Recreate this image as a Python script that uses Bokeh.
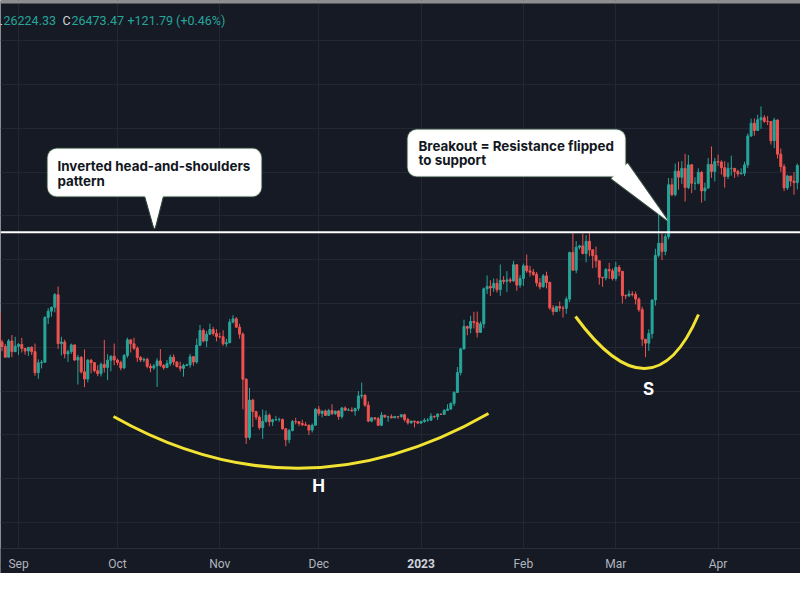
import numpy as np
import pandas as pd
from bokeh.plotting import figure
from bokeh.models import (Range1d, FixedTicker, Span, BoxAnnotation, PolyAnnotation,
                          Label, ColumnDataSource, Grid)
from bokeh.core.properties import value
from bokeh.embed import file_html
from bokeh.resources import INLINE

# ---------------- data (BTC/USD daily) ----------------
start_date = "2022-08-26"
first_open = 21560

closes = [
    20240, 20040, 19550, 20290, 19800, 20050,
    20130, 19950, 19830, 20000, 19800, 18840, 19290, 19320, 21360, 21650,
    21830, 22400, 20170, 20240, 19700, 19800, 20110, 19420, 19540, 18880,
    18550, 19410, 19300, 18930, 18800, 19220, 19080, 19410, 19590, 19420,
    19310, 19060, 19620, 20340, 20160, 19960, 19530, 19420, 19450, 19130,
    19060, 19150, 19380, 19180, 19070, 19260, 19550, 19330, 19120, 19040,
    19170, 19200, 19570, 19330, 20090, 20770, 20290, 20600, 20810, 20630, 20490,
    20480, 20160, 20210, 21150, 21300, 20920, 20600, 18540, 15880, 17590,
    17070, 16810, 16330, 16620, 16900, 16600, 16690, 16700, 16700, 16280,
    15780, 16190, 16610, 16600, 16520, 16460, 16440, 16220, 16440, 17170,
    16980, 17090, 16890, 17110, 16970, 17090, 16840, 17230, 17130, 17130,
    17090, 17210, 17780, 17810, 17360, 16630, 16780, 16740, 16440, 16900,
    16820, 16830, 16780, 16840, 16830, 16920, 16700, 16550, 16630, 16600, 16540,
    16620, 16670, 16670, 16850, 16830, 16950, 16940, 17120, 17180, 17440,
    17940, 18850, 19930, 20950, 20870, 21180, 21130, 20680, 21070, 22670,
    22780, 22710, 22920, 22630, 23060, 23010, 23080, 23030, 23770, 22840, 23140,
    23720, 23490, 23430, 23330, 22940, 22760, 23260, 22960, 21800, 21630,
    21860, 21790, 21780, 22200, 24330, 23520, 24570, 24630, 24280, 24840,
    24450, 24190, 23950, 23200, 23170, 23550, 23490, 23140,
    23650, 23470, 22360, 22350, 22430, 22410, 22200, 21720, 20370, 20190,
    20630, 22160, 24200, 24750, 24380, 25050, 27420, 26970, 28040, 27770,
    28170, 27300, 28330, 27490, 27490, 27990, 27140, 27270, 28350, 28030, 28480,
    28460, 28200, 27800, 28170, 28170, 28030, 27920, 27950, 28330, 29650,
    30230, 29900, 30390, 30480, 30320, 30310, 29430, 30380, 28820, 28250,
    27280, 27820, 27590, 27520, 28300,
]
highs = [
    21800, 20340, 20150, 20380, 20560, 20480,
    20200, 20430, 19960, 20000, 20050, 20170, 19450, 19420, 21420, 21790,
    21850, 22480, 22780, 20480, 20350, 19890, 20170, 20100, 19650, 19600,
    19900, 19470, 19470, 19310, 19180, 19310, 20340, 19690, 19640, 20170,
    19480, 19390, 19690, 20440, 20360, 20440, 20040, 19600, 19530, 19520,
    19250, 19240, 19500, 19920, 19220, 19420, 19660, 19680, 19360, 19340,
    19250, 19250, 19700, 19600, 20400, 21020, 20860, 20740, 21080, 20930, 20830,
    20670, 20780, 20390, 21300, 21470, 21380, 21080, 20680, 18590, 18150,
    17650, 17070, 16890, 17160, 17110, 16980, 16740, 16870, 16790, 16750,
    16290, 16270, 16680, 16780, 16610, 16690, 16590, 16480, 16520, 17220,
    17320, 17100, 17160, 17190, 17400, 17100, 17140, 17280, 17300, 17220,
    17260, 17240, 18000, 18390, 17850, 17530, 16800, 16800, 16820, 17040,
    16910, 16870, 16940, 16870, 16860, 16940, 16970, 16780, 16650, 16640, 16630,
    16630, 16760, 16770, 16990, 16880, 16990, 16960, 17170, 17400, 17490,
    17990, 19100, 19960, 21260, 20990, 21440, 21620, 21630, 21180, 22730,
    23280, 23060, 23140, 23140, 23780, 23250, 23480, 23180, 23950, 23800, 23300,
    23820, 24240, 23720, 23580, 23440, 23160, 23350, 23450, 23010, 21930,
    21900, 22090, 21900, 22310, 24370, 25250, 24850, 24680, 25190, 25120,
    25250, 24460, 24600, 23950, 23200, 23620, 23850, 23600,
    23900, 23760, 23480, 22420, 22600, 22560, 22540, 22280, 21850, 20370,
    20820, 22180, 24500, 26390, 25200, 25180, 27730, 27720, 28390, 28470,
    28500, 28830, 28780, 28370, 27760, 28170, 28050, 27520, 28640, 29170, 28650,
    28800, 28540, 28500, 28440, 28750, 28180, 28110, 28170, 28470, 29760,
    30440, 30450, 30620, 31000, 30600, 30560, 30330, 30480, 30400, 29080,
    28370, 27880, 27820, 28000, 28390,
]
lows = [
    20130, 19820, 19530, 19600, 19550, 19800,
    19650, 19760, 19660, 19600, 19650, 18700, 18560, 19030, 19300, 21060,
    21400, 21600, 19930, 19630, 19500, 19330, 19700, 19370, 18300, 18800,
    18180, 18400, 18810, 18850, 18680, 18670, 18850, 18500, 18900, 19180,
    19180, 18950, 19000, 19520, 19760, 19880, 19330, 19330, 19320, 19040,
    18860, 18970, 18190, 19100, 18980, 19060, 19150, 19180, 19080, 18900,
    18660, 19140, 19070, 19160, 19250, 20060, 20220, 20010, 20560, 20530, 20270,
    20400, 20070, 20030, 20190, 21090, 20900, 20400, 17170, 15590, 15780,
    16360, 16680, 16240, 15820, 16560, 16390, 16410, 16640, 16600, 16240,
    15480, 15620, 16180, 16480, 16400, 16410, 16420, 16000, 16110, 16430,
    16870, 16800, 16860, 16880, 16910, 16910, 16690, 16740, 17100, 17090,
    17070, 16880, 17090, 17660, 17280, 16580, 16580, 16660, 16400, 16400,
    16770, 16600, 16760, 16790, 16730, 16790, 16600, 16470, 16510, 16340, 16490,
    16500, 16550, 16600, 16660, 16760, 16680, 16910, 16910, 17110, 17150,
    17320, 17910, 18720, 19890, 20550, 20640, 20860, 20450, 20670, 20870,
    22430, 22340, 22530, 22500, 22350, 22880, 22530, 22940, 23000, 22580, 22720,
    22800, 23400, 23230, 23260, 22780, 22640, 22730, 22690, 21710, 21470,
    21610, 21640, 21360, 21530, 22060, 23510, 23380, 24470, 24250, 23880,
    24150, 23610, 23640, 22860, 22760, 23060, 23120, 23050,
    23040, 23250, 22000, 22200, 22300, 22320, 21960, 21620, 20060, 19550,
    19840, 20400, 21900, 24100, 23980, 24200, 24930, 26900, 26890, 27200,
    27460, 26650, 27220, 27040, 27180, 27440, 26610, 26690, 27250, 27740, 27570,
    28280, 27880, 27290, 27680, 27840, 27740, 27790, 27890, 27820, 28180,
    29610, 29660, 29880, 29980, 30250, 30150, 29260, 29100, 28620, 28010,
    27130, 27180, 27350, 26970, 27210,
]

tick_dates = ["2022-09-01", "2022-10-01", "2022-11-01", "2022-12-01",
              "2023-01-01", "2023-02-01", "2023-03-01", "2023-04-01"]
tick_labels = ["Sep", "Oct", "Nov", "Dec", "2023", "Feb", "Mar", "Apr"]

neckline = 25250
grid_step = 2000

info_parts = ["L", "26224.33", "C", "26473.47", "+121.79 (+0.46%)"]

callout_texts = [
    ["Inverted head-and-shoulders", "pattern"],
    ["Breakout = Resistance flipped", "to support"],
]
pattern_letters = ["H", "S"]

# ---------------- style ----------------
BG = "#161a25"
GRID = "#232733"
UP = "#26a69a"
DOWN = "#ef5350"
YELLOW = "#f2e332"
BORDER = "#8cc48c"
AXIS_TEXT = "#b2b5be"

# pixel calibration of the original screenshot
ORIGIN = pd.Timestamp("2022-09-01")
X_OFF, PX_PER_DAY = 18.0, 3.3
REF_PRICE, REF_PY, PRICE_PER_PX = 22000.0, 303.0, 45.66
CANVAS_H = 573
AXIS_TOP = 548


def xd(px):
    return (px - X_OFF) / PX_PER_DAY


def yp(py):
    return REF_PRICE + (REF_PY - py) * PRICE_PER_PX


# ---------------- build table ----------------
dates = pd.date_range(start_date, periods=len(closes), freq="D")
x = np.asarray((dates - ORIGIN).days, dtype=float)
c = np.array(closes, dtype=float)
o = np.array([first_open] + closes[:-1], dtype=float)
h = np.maximum(np.array(highs, dtype=float), np.maximum(o, c))
l = np.minimum(np.array(lows, dtype=float), np.minimum(o, c))
colors = np.where(c >= o, UP, DOWN)
src = ColumnDataSource(dict(x=x, o=o, h=h, l=l, c=c,
                            top=np.maximum(o, c), bottom=np.minimum(o, c),
                            color=colors))

tick_x = [int((pd.Timestamp(d) - ORIGIN).days) for d in tick_dates]

# ---------------- figure ----------------
p = figure(width=800, height=CANVAS_H,
           x_range=Range1d(xd(0), xd(800)), y_range=Range1d(yp(CANVAS_H), yp(0)),
           output_backend="svg", toolbar_location=None,
           x_axis_location=None, y_axis_location=None,
           min_border=0,
           background_fill_color=BG, border_fill_color=BG,
           outline_line_color=None)
p.grid.grid_line_color = None

p.add_layout(Grid(dimension=0, ticker=FixedTicker(ticks=tick_x), grid_line_color=GRID))
p.add_layout(Grid(dimension=1, ticker=FixedTicker(ticks=list(range(8000, 40001, grid_step))),
                  grid_line_color=GRID))

# time-scale strip at the bottom (hides the grid, separator line on top)
p.add_layout(BoxAnnotation(top=yp(AXIS_TOP), fill_color=BG, fill_alpha=1,
                           line_color=None, level="underlay"))
p.add_layout(Span(location=yp(AXIS_TOP), dimension="width", line_color="#2a2e39",
                  line_width=1, level="underlay"))

axis_src = ColumnDataSource(dict(
    x=tick_x,
    y=[yp(563)] * len(tick_x),
    text=tick_labels,
    style=["bold" if lab.isdigit() else "normal" for lab in tick_labels],
    color=["#d1d4dc" if lab.isdigit() else AXIS_TEXT for lab in tick_labels],
))
p.text(x="x", y="y", text="text", source=axis_src, text_align="center",
       text_baseline="middle", text_font=value("Roboto"), text_font_size=value("12px"),
       text_font_style="style", text_color="color")

# top grey band
p.add_layout(BoxAnnotation(bottom=yp(3), fill_color="#8e8e8e", fill_alpha=1,
                           line_color=None, level="overlay"))

# candles
p.segment(x0="x", y0="h", x1="x", y1="l", line_color="color", line_width=1, source=src)
p.vbar(x="x", width=0.6, top="top", bottom="bottom", fill_color="color",
       line_color="color", line_width=1, source=src)

# neckline
p.add_layout(Span(location=neckline, dimension="width", line_color="white",
                  line_width=2))

# pattern arcs (quadratic curves)
arc_x0 = [xd(113), xd(575)]
arc_y0 = [yp(416), yp(316)]
arc_x1 = [xd(488), xd(698)]
arc_y1 = [yp(413), yp(314)]
arc_cx = [xd(299), xd(652)]
arc_cy = [yp(521), yp(421)]
p.quadratic(x0=arc_x0, y0=arc_y0, x1=arc_x1, y1=arc_y1, cx=arc_cx, cy=arc_cy,
            line_color=YELLOW, line_width=3)

for letter, (lx, ly) in zip(pattern_letters, [(318, 485), (648, 388)]):
    p.add_layout(Label(x=xd(lx), y=yp(ly), text=letter, text_align="center",
                       text_baseline="middle", text_color="white",
                       text_font="Inter", text_font_style="bold",
                       text_font_size="17px"))

# callouts
callout_geo = [
    dict(box=(47, 261, 148, 196), tail=[(144, 193), (163, 193), (154, 228)],
         text_x=57, text_y=[165, 180]),
    dict(box=(407, 625, 129, 176), tail=[(611, 178), (627, 163), (667, 220)],
         text_x=418, text_y=[145, 159]),
]
for geo, lines in zip(callout_geo, callout_texts):
    txs = [xd(px) for px, _ in geo["tail"]]
    tys = [yp(py) for _, py in geo["tail"]]
    p.add_layout(PolyAnnotation(xs=txs, ys=tys, fill_color="white", fill_alpha=1,
                                line_color=BORDER, line_width=2.5))
    L, R, T, B = geo["box"]
    p.add_layout(BoxAnnotation(left=xd(L), right=xd(R), top=yp(T), bottom=yp(B),
                               fill_color="white", fill_alpha=1, line_color=BORDER,
                               line_width=1.5, border_radius=9))
    p.add_layout(PolyAnnotation(xs=txs, ys=tys, fill_color="white", fill_alpha=1,
                                line_color=None))
    for line, ty in zip(lines, geo["text_y"]):
        p.add_layout(Label(x=xd(geo["text_x"]), y=yp(ty), text=line,
                           text_align="left", text_baseline="middle",
                           text_color="#131722", text_font="Inter",
                           text_font_style="bold", text_font_size="13.4px"))

# top OHLC info line
info_x = [-5, 3, 62, 71, 127]
info_colors = ["#d1d4dc", UP, "#d1d4dc", UP, UP]
for txt, ix, col in zip(info_parts, info_x, info_colors):
    p.add_layout(Label(x=ix, y=CANVAS_H - 20, x_units="screen", y_units="screen",
                       text=txt, text_align="left", text_baseline="middle",
                       text_color=col, text_font="Roboto", text_font_size="12.5px"))

open("out.html", "w").write(file_html(p, INLINE))
